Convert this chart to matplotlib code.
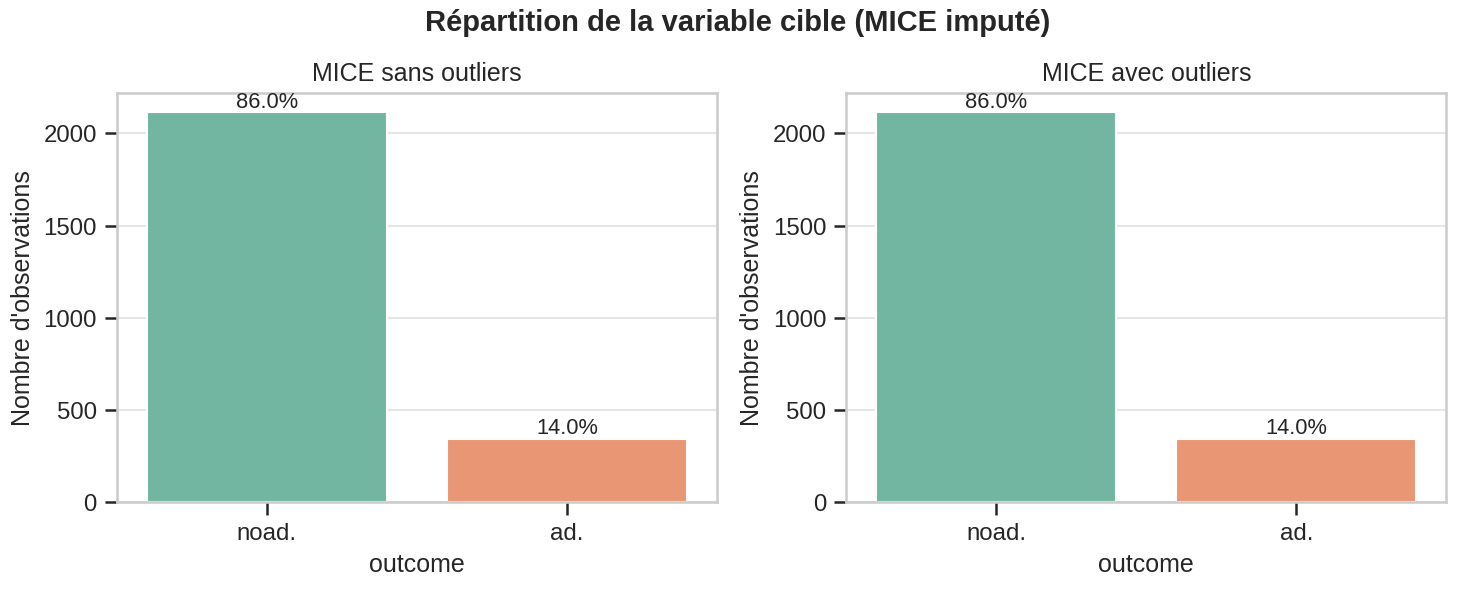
import numpy as np
import matplotlib.pyplot as plt
import seaborn as sns

categories = ["noad.", "ad."]
counts_sans = [2115, 344]
counts_avec = [2115, 344]
titles = ["MICE sans outliers", "MICE avec outliers"]

sns.set_theme(style="whitegrid", context="notebook")
sns.set_style("whitegrid", {"xtick.bottom": True, "ytick.left": True})
plt.rcParams['font.family'] = ['Liberation Sans', 'DejaVu Sans']
colors = sns.desaturate(sns.color_palette("Set2", 2)[0], 0.75), sns.desaturate(sns.color_palette("Set2", 2)[1], 0.75)

fig, axes = plt.subplots(1, 2, figsize=(9.84, 3.93), dpi=150)
fig.subplots_adjust(left=0.079, right=0.98, top=0.842, bottom=0.147, wspace=0.215)
for ax, counts, title in zip(axes, [counts_sans, counts_avec], titles):
    x = np.arange(len(categories))
    ax.bar(x, counts, color=colors, width=0.8)
    ax.set_xticks(x)
    ax.set_xticklabels(categories)
    ax.set_xlim(-0.5, 1.5)
    ax.set_ylim(0, 2220)
    ax.xaxis.grid(False)
    ax.yaxis.grid(True, color="#e6e6e6")
    ax.set_title(title, fontsize=12)
    ax.set_xlabel("outcome", fontsize=12)
    ax.set_ylabel("Nombre d'observations", fontsize=12)
    total = sum(counts)
    for xi, c in zip(x, counts):
        ax.text(xi, c, f"{100 * c / total:.1f}%", ha="center", va="bottom", fontsize=10.5)
    ax.tick_params(length=6, width=1.2, colors="#262626", labelsize=11.5)
    for s in ax.spines.values():
        s.set_color("#cccccc")

fig.suptitle("Répartition de la variable cible (MICE imputé)", fontsize=14, fontweight="bold", y=0.985)
fig.savefig("out.png", dpi=150)
